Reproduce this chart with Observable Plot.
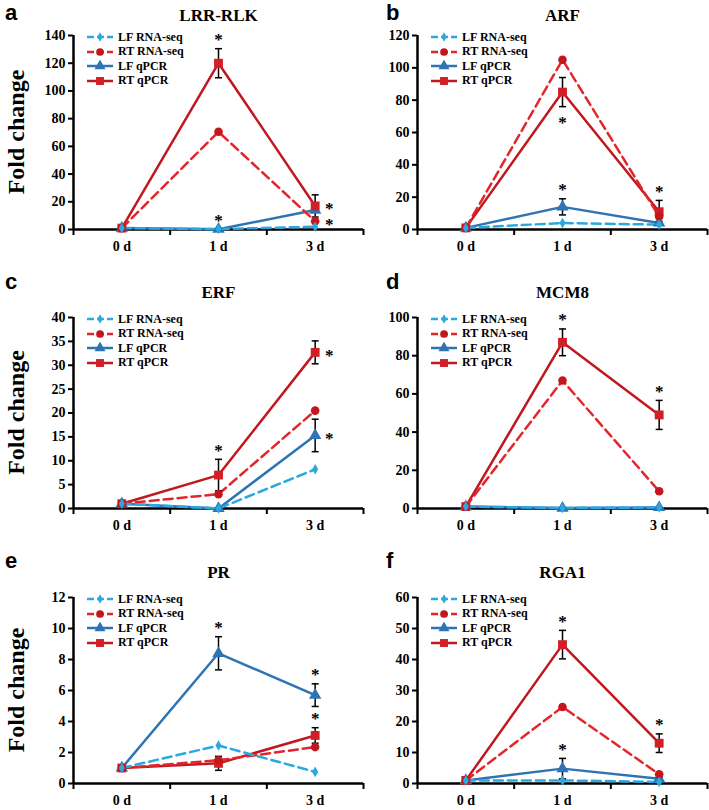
<!DOCTYPE html>
<html><head><meta charset="utf-8">
<script src="https://cdn.jsdelivr.net/npm/d3@7"></script>
<script src="https://cdn.jsdelivr.net/npm/@observablehq/plot@0.6"></script>
<style>
body{margin:0;background:#fff;}
#fig{position:relative;width:709px;height:810px;overflow:hidden;background:#fff;font-family:"Liberation Serif","Times New Roman",serif;}
.panel{position:absolute;}
.overlay{position:absolute;left:0;top:0;pointer-events:none;}
.legend{position:absolute;font-weight:bold;font-size:12px;color:#000;}
.legend .row{display:flex;align-items:center;height:14.5px;white-space:nowrap;}
.legend svg{display:block;margin-right:5px;}
</style>
</head><body><div id="fig"></div>
<script>
// ---------- data ----------
const days = ["0 d", "1 d", "3 d"];
const genes = ["LRR-RLK", "ARF", "ERF", "MCM8", "PR", "RGA1"];
const panelLetters = ["a", "b", "c", "d", "e", "f"];
const seriesNames = ["LF RNA-seq", "RT RNA-seq", "LF qPCR", "RT qPCR"];
const yLabel = "Fold change";
const yMax = [140, 120, 40, 100, 12, 60];
const yStep = [20, 20, 5, 20, 2, 10];

// values per gene (rows) over days 0 d, 1 d, 3 d
const lfRnaSeq = [[1, 0.3, 2.0], [1, 4, 3], [1, 0, 8.2], [1, 0.3, 0.5], [1, 2.45, 0.75], [1, 1.0, 0.5]];
const rtRnaSeq = [[1, 70.5, 6], [1, 105, 8], [1, 3, 20.5], [1, 67, 9], [1, 1.5, 2.35], [1, 24.7, 3]];
const lfQpcr   = [[1, 0.2, 14], [1, 14, 4], [1, 0, 15.3], [1, 0.2, 0.5], [1, 8.4, 5.7], [1, 4.8, 1.5]];
const rtQpcr   = [[1, 120, 17], [1, 85, 11], [1, 7, 32.7], [1, 87, 49], [1, 1.3, 3.1], [1, 44.8, 13]];
// error bars (± SD) of qPCR series
const lfQpcrErr = [[0, 0, 0], [0, 5, 1], [0, 0, 3.4], [0, 0, 0], [0, 1.07, 0.73], [0, 3.3, 0.5]];
const rtQpcrErr = [[0, 10.5, 8], [0, 9, 7], [0, 3.3, 2.4], [0, 7, 7.6], [0, 0.45, 0.5], [0, 4.6, 3]];
// significance stars: [series index, day index, placement]
const stars = [
  [[3, 1, "above"], [2, 1, "above"], [3, 2, "right"], [1, 2, "right"]],
  [[3, 1, "below"], [2, 1, "above"], [3, 2, "above"]],
  [[3, 1, "above"], [3, 2, "right"], [2, 2, "right"]],
  [[3, 1, "above"], [3, 2, "above"]],
  [[2, 1, "above"], [2, 2, "above"], [3, 2, "above"]],
  [[3, 1, "above"], [2, 1, "above"], [3, 2, "above"]]
];

// ---------- styles ----------
const seriesValues = [lfRnaSeq, rtRnaSeq, lfQpcr, rtQpcr];
const seriesErrors = [null, null, lfQpcrErr, rtQpcrErr];
const lineColor = ["#2aa9e0", "#e3262b", "#2e74b5", "#c0181e"];
const markFill = ["#2aa9e0", "#c4161c", "#2e74b5", "#d21f26"];
const dashes = ["9,5", "9,5", null, null];
const symbols = ["diamond", "circle", "triangle", "square"];
const symbolR = [3.2, 4.3, 4.6, 5];
const drawOrder = [2, 3, 1, 0];

// layout
const rowTop = [0, 270, 540];
const rowMarginTop = [35, 47, 57];
const rowPlotH = [194, 191, 186];
const rowTitleDy = [-20, -25, -25];
const rowLetterBase = [20, 289, 568];
const colLeft = [0, 344];
const colLetterX = [5, 386];
const panelW = 365, panelH = 270, mLeft = 73, mRight = 2;

const capSymbol = {draw(ctx, size) { const w = Math.sqrt(size / Math.PI); ctx.moveTo(-w, 0); ctx.lineTo(w, 0); }};

const fig = document.getElementById("fig");
const overlay = d3.create("svg").attr("class", "overlay").attr("width", 709).attr("height", 810);

genes.forEach((gene, g) => {
  const row = Math.floor(g / 2), col = g % 2;
  const data = [];
  seriesValues.forEach((vals, s) => {
    vals[g].forEach((v, i) => {
      data.push({s, x: i, value: v, err: seriesErrors[s] ? seriesErrors[s][g][i] : 0});
    });
  });
  const errData = data.filter(d => d.err > 0);
  const starData = stars[g].map(([s, i, place]) => {
    const d = data.find(e => e.s === s && e.x === i);
    return {x: i, place, y: place === "above" ? d.value + d.err : place === "below" ? d.value - d.err : d.value};
  });
  const marks = [
    Plot.axisY({ticks: d3.range(0, yMax[g] + yStep[g] / 2, yStep[g]), tickSize: 5, tickPadding: 3, strokeWidth: 2, label: null}),
    Plot.axisX({ticks: [0, 1, 2], tickFormat: i => days[i], tickSize: 0, tickPadding: 12, label: null}),
    Plot.axisX({ticks: [-0.5, 0.5, 1.5, 2.5], tickFormat: () => "", tickSize: 6, strokeWidth: 2, label: null}),
    Plot.ruleY([0], {stroke: "black", strokeWidth: 2.5}),
    Plot.ruleX([-0.5], {stroke: "black", strokeWidth: 2.5})
  ];
  drawOrder.forEach(s => {
    marks.push(Plot.line(data.filter(d => d.s === s), {x: "x", y: "value", stroke: lineColor[s], strokeWidth: 2.5, strokeDasharray: dashes[s]}));
  });
  marks.push(
    Plot.ruleX(errData, {x: "x", y1: d => d.value - d.err, y2: d => d.value + d.err, stroke: "black", strokeWidth: 1.5}),
    Plot.dot(errData, {x: "x", y: d => d.value + d.err, symbol: capSymbol, r: 3.5, stroke: "black", strokeWidth: 1.5}),
    Plot.dot(errData, {x: "x", y: d => d.value - d.err, symbol: capSymbol, r: 3.5, stroke: "black", strokeWidth: 1.5})
  );
  drawOrder.forEach(s => {
    marks.push(Plot.dot(data.filter(d => d.s === s), {x: "x", y: "value", symbol: symbols[s], r: symbolR[s], fill: markFill[s], stroke: "none"}));
  });
  ["above", "below", "right"].forEach(p => {
    const sd = starData.filter(d => d.place === p);
    marks.push(Plot.text(sd, {x: "x", y: "y", text: () => "*", fontSize: 17, fontWeight: "bold", lineAnchor: "middle",
      dx: p === "right" ? 14 : 0, dy: p === "above" ? -9 : p === "below" ? 16 : 3}));
  });
  marks.push(Plot.text([gene], {frameAnchor: "top", text: d => d, dy: rowTitleDy[row], fontSize: 17, fontWeight: "bold", lineAnchor: "middle"}));
  const svg = Plot.plot({
    width: panelW,
    height: panelH,
    marginLeft: mLeft,
    marginRight: mRight,
    marginTop: rowMarginTop[row],
    marginBottom: panelH - rowMarginTop[row] - rowPlotH[row],
    x: {domain: [-0.5, 2.5]},
    y: {domain: [0, yMax[g]]},
    style: {background: "transparent", fontFamily: "'Liberation Serif','Times New Roman',serif", fontWeight: "bold", fontSize: "14px", color: "black", overflow: "visible"},
    marks
  });
  const wrap = document.createElement("div");
  wrap.className = "panel";
  wrap.style.left = colLeft[col] + "px";
  wrap.style.top = rowTop[row] + "px";
  wrap.appendChild(svg);
  fig.appendChild(wrap);

  // panel letter
  overlay.append("text").attr("x", colLetterX[col]).attr("y", rowLetterBase[row])
    .attr("font-family", "'Liberation Sans',Arial,sans-serif").attr("font-weight", "bold").attr("font-size", 22)
    .text(panelLetters[g]);
  // y label (left column only)
  if (col === 0) {
    const cy = rowTop[row] + rowMarginTop[row] + rowPlotH[row] / 2;
    overlay.append("text").attr("transform", `translate(16,${cy}) rotate(-90)`)
      .attr("text-anchor", "middle").attr("dominant-baseline", "central")
      .attr("font-family", "'Liberation Serif','Times New Roman',serif").attr("font-weight", "bold").attr("font-size", 24)
      .text(yLabel);
  }

  // legend
  const leg = document.createElement("div");
  leg.className = "legend";
  leg.style.left = (colLeft[col] + mLeft + 14) + "px";
  leg.style.top = (rowTop[row] + rowMarginTop[row] - 5) + "px";
  seriesNames.forEach((name, s) => {
    const r = document.createElement("div");
    r.className = "row";
    const sw = d3.create("svg").attr("width", 26).attr("height", 12);
    sw.append("line").attr("x1", 0).attr("x2", 26).attr("y1", 6).attr("y2", 6)
      .attr("stroke", lineColor[s]).attr("stroke-width", 2.5).attr("stroke-dasharray", dashes[s] ? "7,3" : null);
    const symType = {diamond: d3.symbolDiamond, circle: d3.symbolCircle, triangle: d3.symbolTriangle, square: d3.symbolSquare}[symbols[s]];
    sw.append("path").attr("transform", "translate(13,6)").attr("d", d3.symbol(symType, Math.PI * symbolR[s] * symbolR[s] * 0.8)())
      .attr("fill", markFill[s]);
    r.appendChild(sw.node());
    const t = document.createElement("span");
    t.textContent = name;
    r.appendChild(t);
    leg.appendChild(r);
  });
  fig.appendChild(leg);
});
fig.appendChild(overlay.node());
</script>
</body></html>
